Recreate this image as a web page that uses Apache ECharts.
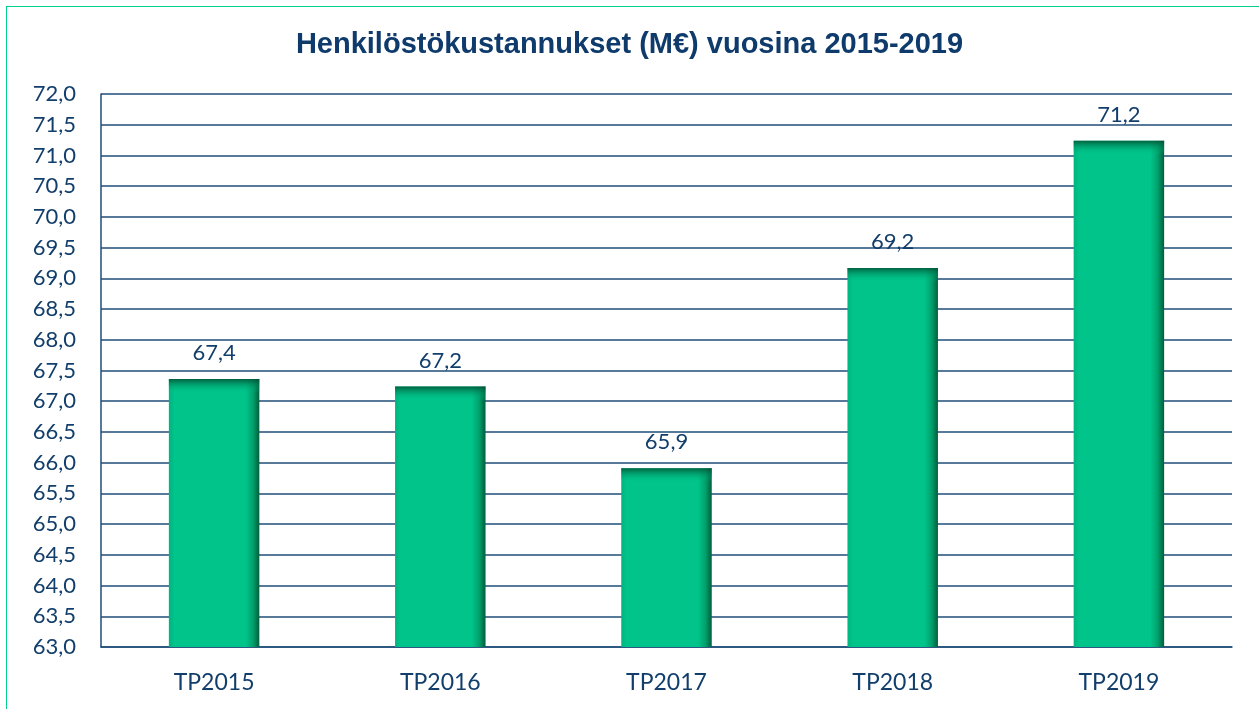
<!DOCTYPE html>
<html><head><meta charset="utf-8">
<script src="https://cdn.jsdelivr.net/npm/echarts@6/dist/echarts.min.js"></script>
<style>
html,body{margin:0;padding:0;background:#fff;}
#frame{position:absolute;left:6px;top:6px;width:1260px;height:710px;border:1.5px solid #00D08C;box-sizing:border-box;}
#c{position:absolute;left:0;top:0;width:1259px;height:709px;}
</style></head>
<body>
<div id="frame"></div>
<div id="c"></div>
<script>
const titleText = 'Henkilöstökustannukset (M€) vuosina 2015-2019';
const categories = ['TP2015','TP2016','TP2017','TP2018','TP2019'];
const values = [67.36, 67.24, 65.91, 69.17, 71.24];
const yMin = 63, yMax = 72, yStep = 0.5;

const navy = '#1F4E79';
const txt = '#123E6B';
const fmt = v => v.toFixed(1).replace('.', ',');

const chart = echarts.init(document.getElementById('c'), null, {renderer:'canvas'});
const plotH = 553;
const topBand = values.map(v => {
  const h = (v - yMin) / (yMax - yMin) * plotH;
  return Math.min(0.5, 14 / h);
});

chart.setOption({
  animation:false,
  title:{text:titleText,left:'center',top:25,textStyle:{fontFamily:'Liberation Sans',fontWeight:'bold',fontSize:29,color:'#0E3A6C'}},
  grid:{left:101,right:27,top:94,bottom:62},
  xAxis:{type:'category',data:categories,
    axisLine:{show:true,lineStyle:{color:navy,width:1.5}},
    axisTick:{show:false},
    axisLabel:{fontFamily:'Lato',fontSize:23,color:txt,margin:24}},
  yAxis:{type:'value',min:yMin,max:yMax,interval:yStep,
    axisLine:{show:true,lineStyle:{color:navy,width:1.5}},
    axisTick:{show:false},
    splitLine:{lineStyle:{color:navy,width:1.5}},
    axisLabel:{fontFamily:'Lato',fontSize:22,color:txt,margin:25,formatter:v=>fmt(v)}},
  series:[
    {type:'bar',barWidth:'40%',
      data:values,
      itemStyle:{color:new echarts.graphic.LinearGradient(0,0,1,0,[
        {offset:0,color:'#00B47E'},{offset:0.06,color:'#00C48A'},
        {offset:0.85,color:'#00C48A'},{offset:0.93,color:'#00A06C'},{offset:1,color:'#005E3C'}])}},
    {type:'bar',barWidth:'40%',barGap:'-100%',
      data:values.map((v,i)=>({value:v,itemStyle:{color:new echarts.graphic.LinearGradient(0,0,0,1,[
        {offset:0,color:'rgba(0,80,50,0.85)'},{offset:topBand[i],color:'rgba(0,196,138,0)'},{offset:1,color:'rgba(0,196,138,0)'}])}})),
      label:{show:true,position:'top',distance:15,formatter:p=>fmt(p.value),
        fontFamily:'Lato',fontSize:22,color:txt}}
  ]
});
</script>
</body></html>
